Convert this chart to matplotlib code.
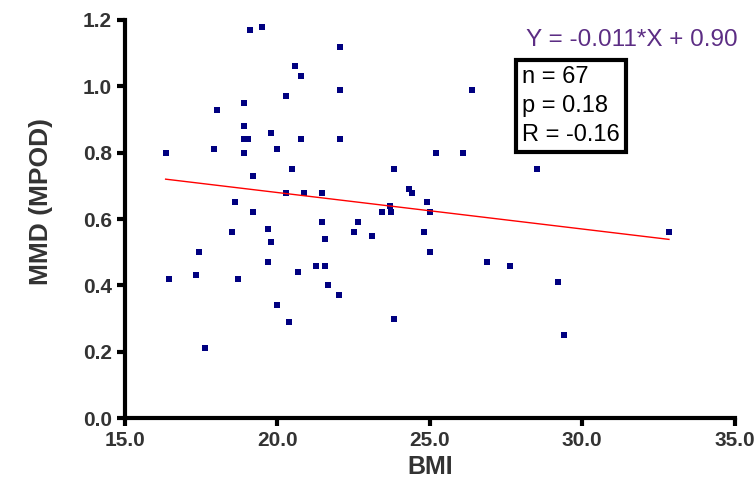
import matplotlib.pyplot as plt
import numpy as np

plt.rcParams['font.family'] = ['Liberation Sans', 'DejaVu Sans']

bmi = [16.34, 16.44, 17.33, 17.43, 17.62, 17.92, 18.02, 18.51, 18.61, 18.70,
       18.90, 18.90, 18.90, 19.03, 18.90, 19.10, 19.49, 19.20, 19.20, 19.69,
       19.69, 19.79, 19.79, 19.98, 19.98, 20.28, 20.28, 20.38, 20.48, 20.57,
       20.77, 20.67, 20.77, 20.87, 21.26, 21.46, 21.46, 21.56, 21.56, 21.66,
       22.02, 22.05, 22.05, 22.05, 22.51, 22.64, 23.10, 23.43, 23.69, 23.72,
       23.82, 23.82, 24.31, 24.41, 24.90, 24.80, 25.00, 25.00, 25.20, 26.08,
       26.38, 26.87, 27.62, 28.51, 29.20, 29.39, 32.84]
mpod = [0.80, 0.42, 0.43, 0.50, 0.21, 0.81, 0.93, 0.56, 0.65, 0.42,
        0.95, 0.88, 0.84, 0.84, 0.80, 1.17, 1.18, 0.73, 0.62, 0.57,
        0.47, 0.53, 0.86, 0.34, 0.81, 0.97, 0.68, 0.29, 0.75, 1.06,
        1.03, 0.44, 0.84, 0.68, 0.46, 0.68, 0.59, 0.54, 0.46, 0.40,
        0.37, 1.12, 0.99, 0.84, 0.56, 0.59, 0.55, 0.62, 0.64, 0.62,
        0.75, 0.30, 0.69, 0.68, 0.65, 0.56, 0.50, 0.62, 0.80, 0.80,
        0.99, 0.47, 0.46, 0.75, 0.41, 0.25, 0.56]

slope = -0.011
intercept = 0.90
stats_text = "n = 67\np = 0.18\nR = -0.16"
eq_text = "Y = -0.011*X + 0.90"

fig = plt.figure(figsize=(7.56, 4.99), dpi=100)
ax = fig.add_axes([0.165, 0.162, 0.807, 0.798])

ax.plot(bmi, mpod, 's', color='#000080', markersize=5, markeredgewidth=0)

xl = np.array([min(bmi), max(bmi)])
ax.plot(xl, slope * xl + intercept, color='red', linewidth=1)

ax.set_xlim(15, 35)
ax.set_ylim(0, 1.2)
ax.set_xticks([15, 20, 25, 30, 35])
ax.set_xticklabels(['15.0', '20.0', '25.0', '30.0', '35.0'])
ax.set_yticks([0, 0.2, 0.4, 0.6, 0.8, 1.0, 1.2])
ax.set_yticklabels(['0.0', '0.2', '0.4', '0.6', '0.8', '1.0', '1.2'])

for s in ['top', 'right']:
    ax.spines[s].set_visible(False)
for s in ['left', 'bottom']:
    ax.spines[s].set_linewidth(3)
ax.tick_params(direction='out', length=6, width=3, labelsize=15, colors='black',
               labelcolor='#333333', pad=3)
for lab in ax.get_xticklabels() + ax.get_yticklabels():
    lab.set_fontweight('bold')

ax.set_xlabel('BMI', fontsize=18, fontweight='bold', color='#333333', labelpad=4)
ax.set_ylabel('MMD (MPOD)', fontsize=19, fontweight='bold', color='#333333')
ax.yaxis.set_label_coords(-0.118, 0.545)

ax.text(1.005, 0.95, eq_text, transform=ax.transAxes, ha='right', va='center',
        fontsize=17.5, color='#5c2d84')
ax.text(0.651, 0.884, stats_text, transform=ax.transAxes, ha='left', va='top',
        fontsize=17, color='black', linespacing=1.4,
        bbox=dict(boxstyle='square,pad=0.25', facecolor='white', edgecolor='black',
                  linewidth=3))

plt.savefig('out.png', dpi=100)
